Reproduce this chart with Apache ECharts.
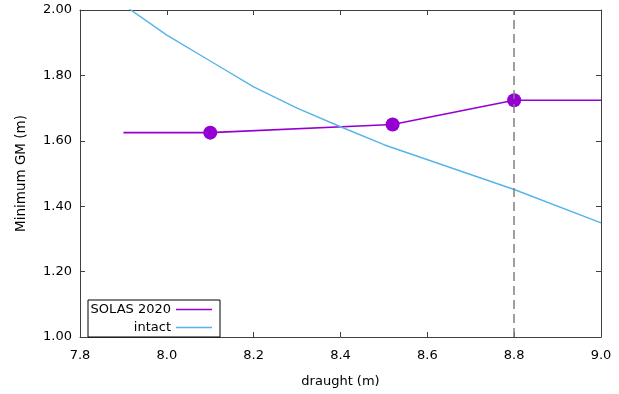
<!DOCTYPE html>
<html>
<head>
<meta charset="utf-8">
<script src="https://cdn.jsdelivr.net/npm/echarts@6/dist/echarts.min.js"></script>
<style>
html,body{margin:0;padding:0;background:#fff;}
#c{width:619px;height:394px;}
</style>
</head>
<body>
<div id="c"></div>
<script>
// Data
const solasDraught = [7.9, 8.1, 8.52, 8.8, 9.0];
const solasGM      = [1.625, 1.625, 1.650, 1.724, 1.724];
const markerDraught = [8.1, 8.52, 8.8];
const markerGM      = [1.625, 1.650, 1.724];
const intactDraught = [7.9, 8.0, 8.1, 8.2, 8.3, 8.4, 8.5, 8.8, 9.0];
const intactGM      = [2.016, 1.923, 1.844, 1.765, 1.700, 1.643, 1.588, 1.451, 1.349];
const refDraught = 8.8;
const xTicks = [7.8, 8.0, 8.2, 8.4, 8.6, 8.8, 9.0];
const yTicks = [1.00, 1.20, 1.40, 1.60, 1.80, 2.00];

const FONT = 'DejaVu Sans';
const zip = (a, b) => a.map((v, i) => [v, b[i]]);

const chart = echarts.init(document.getElementById('c'), null, {renderer: 'canvas'});
const frame = {show: true, onZero: false, lineStyle: {color: '#404040', width: 1}};
const tickIn = {show: true, inside: true, length: 5, lineStyle: {color: '#404040', width: 1}};

chart.setOption({
  animation: false,
  backgroundColor: '#ffffff',
  grid: {left: 80, right: 18, top: 10, bottom: 57, containLabel: false},
  xAxis: [{
    type: 'value', position: 'bottom',
    min: xTicks[0], max: xTicks[xTicks.length - 1], interval: 0.2,
    axisLine: frame, axisTick: tickIn, splitLine: {show: false},
    axisLabel: {color: '#000', fontFamily: FONT, fontSize: 13, margin: 12,
      formatter: v => v.toFixed(1)},
    name: 'draught (m)', nameLocation: 'middle', nameGap: 38,
    nameTextStyle: {color: '#000', fontFamily: FONT, fontSize: 13}
  }, {
    type: 'value', position: 'top',
    min: xTicks[0], max: xTicks[xTicks.length - 1], interval: 0.2,
    axisLine: frame, axisTick: tickIn, splitLine: {show: false},
    axisLabel: {show: false}
  }],
  yAxis: [{
    type: 'value', position: 'left',
    min: yTicks[0], max: yTicks[yTicks.length - 1], interval: 0.2,
    axisLine: frame, axisTick: tickIn, splitLine: {show: false},
    axisLabel: {color: '#000', fontFamily: FONT, fontSize: 13, margin: 8,
      formatter: v => v.toFixed(2)},
    name: 'Minimum GM (m)', nameLocation: 'middle', nameGap: 52,
    nameTextStyle: {color: '#000', fontFamily: FONT, fontSize: 13.5}
  }, {
    type: 'value', position: 'right',
    min: yTicks[0], max: yTicks[yTicks.length - 1], interval: 0.2,
    axisLine: frame, axisTick: tickIn, splitLine: {show: false},
    axisLabel: {show: false}
  }],
  legend: {
    data: ['SOLAS 2020', 'intact'],
    orient: 'vertical', align: 'right',
    left: 88, top: 300,
    padding: [2, 8, 2, 0], itemGap: 3,
    icon: 'rect', itemWidth: 36, itemHeight: 1.6,
    borderColor: '#000', borderWidth: 1, borderRadius: 0,
    backgroundColor: '#fff',
    textStyle: {color: '#000', fontFamily: FONT, fontSize: 13, width: 83, align: 'right', lineHeight: 15}
  },
  series: [{
    name: 'ref', type: 'line', data: [], symbol: 'none', silent: true,
    markLine: {
      silent: true, symbol: 'none', label: {show: false},
      lineStyle: {color: '#808080', type: [9, 5], width: 1.5},
      data: [{xAxis: refDraught}]
    }
  }, {
    name: 'SOLAS 2020', type: 'line', data: zip(solasDraught, solasGM),
    symbol: 'none', color: '#9400D3',
    lineStyle: {color: '#9400D3', width: 1.6}
  }, {
    name: 'intact', type: 'line', data: zip(intactDraught, intactGM),
    symbol: 'none', color: '#56B4E9',
    lineStyle: {color: '#56B4E9', width: 1.4}
  }, {
    name: 'SOLAS points', type: 'scatter', data: zip(markerDraught, markerGM),
    symbol: 'circle', symbolSize: 14,
    itemStyle: {color: '#9400D3', opacity: 1}
  }]
});
</script>
</body>
</html>
